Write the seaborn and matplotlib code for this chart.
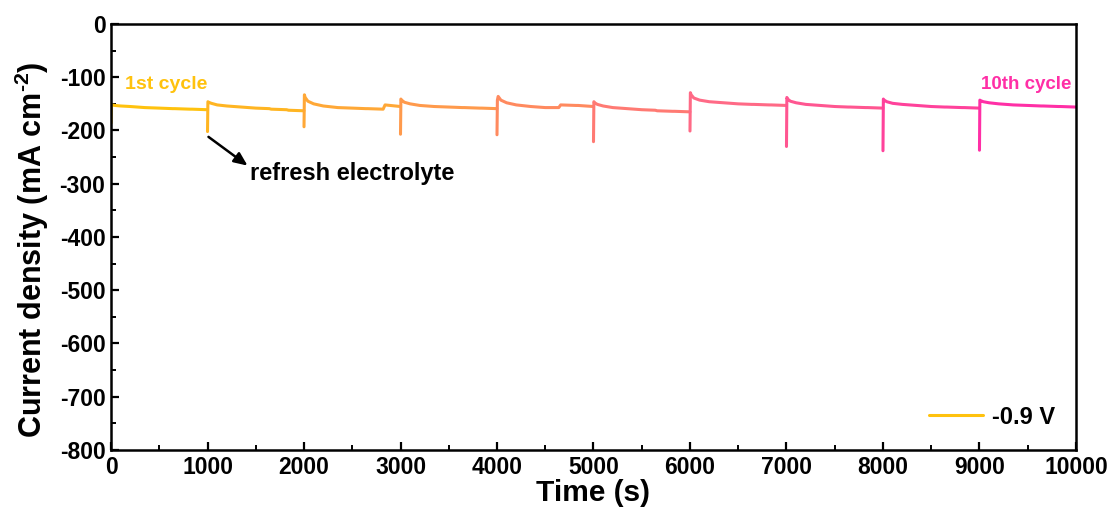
import numpy as np
import pandas as pd
import matplotlib
matplotlib.use("Agg")
import matplotlib.pyplot as plt
from matplotlib.colors import LinearSegmentedColormap, to_hex
from matplotlib.lines import Line2D
from matplotlib.ticker import AutoMinorLocator
import seaborn as sns

# ---- data: chronoamperometry at -0.9 V, electrolyte refreshed every 1000 s ----
cycle_length = 1000
cycle_offsets = [0, 4, 12, 40, 100, 200, 350, 500, 640, 660, 820, 840, 999]

cycle_1 = [-186, -152, -152, -153, -154, -155, -157, -158, -159, -159, -160, -160, -161]
cycle_2 = [-202, -146, -147, -149, -152, -154, -156, -158, -159, -160, -161, -162, -163]
cycle_3 = [-193, -133, -138, -145, -150, -154, -157, -158, -159, -159, -160, -152, -155]
cycle_4 = [-207, -141, -143, -147, -150, -153, -155, -156, -157, -157, -158, -158, -159]
cycle_5 = [-208, -143, -136, -143, -148, -152, -155, -157, -157, -152, -153, -153, -155]
cycle_6 = [-221, -146, -148, -151, -154, -157, -159, -161, -162, -163, -164, -164, -165]
cycle_7 = [-201, -129, -133, -139, -143, -146, -148, -150, -151, -151, -152, -152, -153]
cycle_8 = [-230, -138, -141, -145, -148, -151, -153, -155, -156, -156, -157, -157, -158]
cycle_9 = [-238, -141, -143, -146, -149, -151, -153, -155, -156, -156, -157, -157, -158]
cycle_10 = [-237, -143, -144, -146, -148, -150, -152, -153, -154, -154, -155, -155, -156]

cycles = [cycle_1, cycle_2, cycle_3, cycle_4, cycle_5,
          cycle_6, cycle_7, cycle_8, cycle_9, cycle_10]

x_ticks = [0, 1000, 2000, 3000, 4000, 5000, 6000, 7000, 8000, 9000, 10000]
y_ticks = [0, -100, -200, -300, -400, -500, -600, -700, -800]

rows = []
for i, values in enumerate(cycles):
    for off, v in zip(cycle_offsets, values):
        rows.append({"time": i * cycle_length + off, "j": v, "cycle": i + 1})
df = pd.DataFrame(rows)

# ---- style ----
sns.set_style("ticks")
plt.rcParams["font.family"] = ["Liberation Sans", "DejaVu Sans"]
plt.rcParams["font.weight"] = "bold"
plt.rcParams["axes.labelweight"] = "bold"
plt.rcParams["axes.unicode_minus"] = False
plt.rcParams["text.color"] = "black"
plt.rcParams["axes.labelcolor"] = "black"
plt.rcParams["xtick.color"] = "black"
plt.rcParams["ytick.color"] = "black"
plt.rcParams["mathtext.fontset"] = "custom"
plt.rcParams["mathtext.rm"] = "Liberation Sans:bold"
plt.rcParams["mathtext.bf"] = "Liberation Sans:bold"

cmap = LinearSegmentedColormap.from_list(
    "gold_pink", ["#FFC20E", "#FF9A4C", "#FF6A86", "#FF2FA6"])
palette = [to_hex(cmap(k / 9)) for k in range(10)]

fig = plt.figure(figsize=(11.18, 5.19), dpi=100)
ax = fig.add_axes([0.0993, 0.133, 0.8631, 0.8208])

sns.lineplot(data=df, x="time", y="j", hue="cycle", palette=palette,
             linewidth=2.2, legend=False, ax=ax, estimator=None, sort=False)

ax.set_xlim(0, 10000)
ax.set_ylim(-800, 0)
ax.set_xticks(x_ticks)
ax.set_yticks(y_ticks)
ax.xaxis.set_minor_locator(AutoMinorLocator(2))
ax.yaxis.set_minor_locator(AutoMinorLocator(2))
ax.tick_params(which="major", direction="in", length=6, width=1.6,
               labelsize=16.5, pad=4, colors="black")
ax.tick_params(which="minor", direction="in", length=3.5, width=1.4)
for lab in ax.get_xticklabels() + ax.get_yticklabels():
    lab.set_fontweight("bold")
for sp in ax.spines.values():
    sp.set_visible(True)
    sp.set_linewidth(1.8)
    sp.set_color("black")

ax.set_xlabel("Time (s)", fontsize=21.5, fontweight="bold", labelpad=0)
ax.set_ylabel(r"Current density (mA cm$^{\text{-2}}$)", fontsize=22,
              fontweight="bold", labelpad=2)
ax.yaxis.set_label_coords(-0.062, 0.47)

# ---- annotations ----
ax.text(150, -113, "1st cycle", color=palette[0], fontsize=14,
        fontweight="bold", va="center", ha="left")
ax.text(9950, -113, "10th cycle", color=palette[-1], fontsize=13.5,
        fontweight="bold", va="center", ha="right")
ax.text(1440, -280, "refresh electrolyte", fontsize=17, fontweight="bold",
        va="center", ha="left", color="black")
ax.annotate("", xy=(1415, -266), xytext=(1010, -212),
            arrowprops=dict(arrowstyle="-|>,head_length=0.8,head_width=0.35",
                            color="black", lw=1.8, shrinkA=0, shrinkB=0))

handle = Line2D([], [], color=palette[0], linewidth=2.2)
leg = ax.legend([handle], ["-0.9 V"], loc="lower right", frameon=False,
                handlelength=2.3, handletextpad=0.35, borderaxespad=0.5,
                prop={"weight": "bold", "size": 17})
for t in leg.get_texts():
    t.set_color("black")

fig.savefig("out.png", dpi=100)
